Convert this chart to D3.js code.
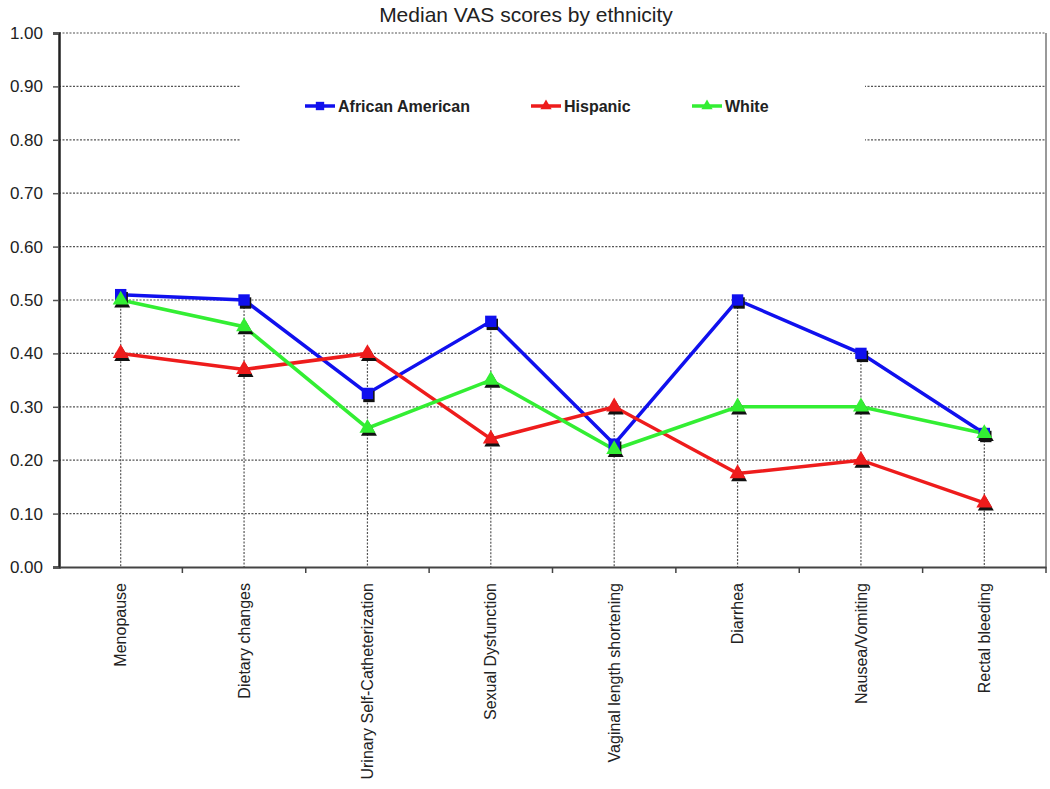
<!DOCTYPE html>
<html>
<head>
<meta charset="utf-8">
<script src="https://cdn.jsdelivr.net/npm/d3@7"></script>
<style>
  body { margin: 0; background: #fff; }
  text { font-family: Arial, "Liberation Sans", sans-serif; }
</style>
</head>
<body>
<svg id="chart" width="1050" height="789"></svg>
<script>
const categories = ["Menopause", "Dietary changes", "Urinary Self-Catheterization", "Sexual Dysfunction",
  "Vaginal length shortening", "Diarrhea", "Nausea/Vomiting", "Rectal bleeding"];
const africanAmerican = [0.51, 0.50, 0.325, 0.46, 0.23, 0.50, 0.40, 0.25];
const hispanic = [0.40, 0.37, 0.40, 0.24, 0.30, 0.175, 0.20, 0.12];
const white = [0.50, 0.45, 0.26, 0.35, 0.22, 0.30, 0.30, 0.25];
const yTicks = [0, 0.1, 0.2, 0.3, 0.4, 0.5, 0.6, 0.7, 0.8, 0.9, 1.0];

const series = [
  { name: "African American", values: africanAmerican, color: "#1010ee", shape: d3.symbolSquare },
  { name: "Hispanic", values: hispanic, color: "#ee1c1c", shape: d3.symbolTriangle },
  { name: "White", values: white, color: "#33ee33", shape: d3.symbolTriangle }
];

const svg = d3.select("#chart");
const plotLeft = 59, plotRight = 1046, plotTop = 33, plotBottom = 567;

const x = d3.scaleBand().domain(categories).range([plotLeft, plotRight]);
const y = d3.scaleLinear().domain([0, 1]).range([plotBottom, plotTop]);
const cx = (c) => x(c) + x.bandwidth() / 2;

// title
svg.append("text")
  .attr("x", 526).attr("y", 22)
  .attr("text-anchor", "middle")
  .attr("font-size", 21)
  .attr("fill", "#222")
  .text("Median VAS scores by ethnicity");

// horizontal gridlines
svg.append("g")
  .selectAll("line")
  .data(yTicks.filter((d) => d > 0))
  .join("line")
  .attr("x1", plotLeft).attr("x2", plotRight)
  .attr("y1", (d) => y(d)).attr("y2", (d) => y(d))
  .attr("stroke", "#555")
  .attr("stroke-width", 1.2)
  .attr("stroke-dasharray", "2,1.5");

// drop lines from highest point to axis
svg.append("g")
  .selectAll("line")
  .data(categories)
  .join("line")
  .attr("x1", cx).attr("x2", cx)
  .attr("y1", (c, i) => y(d3.max(series, (s) => s.values[i])))
  .attr("y2", plotBottom)
  .attr("stroke", "#555")
  .attr("stroke-width", 1.2)
  .attr("stroke-dasharray", "2,1.5");

// right border
svg.append("line")
  .attr("x1", plotRight).attr("x2", plotRight)
  .attr("y1", plotTop).attr("y2", plotBottom)
  .attr("stroke", "#777").attr("stroke-width", 1.5);

// y axis
const yAxis = svg.append("g")
  .attr("transform", `translate(${plotLeft},0)`)
  .call(d3.axisLeft(y).tickValues(yTicks).tickFormat(d3.format(".2f")).tickSize(6).tickPadding(10));
yAxis.select(".domain").attr("stroke", "#222").attr("stroke-width", 2.5);
yAxis.selectAll(".tick line").attr("stroke", "#555").attr("stroke-width", 1.5);
yAxis.selectAll("text").attr("font-size", 17).attr("fill", "#222").attr("font-family", "Arial, 'Liberation Sans', sans-serif");

// x axis
const xAxis = svg.append("g")
  .attr("transform", `translate(0,${plotBottom})`)
  .call(d3.axisBottom(x).tickSize(0).tickPadding(0));
xAxis.select(".domain").attr("stroke", "#444").attr("stroke-width", 2);
xAxis.selectAll(".tick text")
  .attr("font-size", 16)
  .attr("fill", "#222")
  .attr("font-family", "Arial, 'Liberation Sans', sans-serif")
  .attr("text-anchor", "end")
  .attr("transform", "translate(0,16) rotate(-90)")
  .attr("dy", "0.35em")
  .attr("x", 0).attr("y", 0);

// minor ticks at category boundaries
svg.append("g")
  .selectAll("line")
  .data(categories.slice(1).concat(["end"]))
  .join("line")
  .attr("x1", (c) => c === "end" ? plotRight : x(c))
  .attr("x2", (c) => c === "end" ? plotRight : x(c))
  .attr("y1", plotBottom).attr("y2", plotBottom + 6)
  .attr("stroke", "#444").attr("stroke-width", 1.5);

// lines
const line = d3.line().x((d, i) => cx(categories[i])).y((d) => y(d));
svg.append("g")
  .selectAll("path")
  .data(series)
  .join("path")
  .attr("d", (s) => line(s.values))
  .attr("fill", "none")
  .attr("stroke", (s) => s.color)
  .attr("stroke-width", 3.5);

// markers with black shadow
const markerG = svg.append("g");
series.forEach((s) => {
  const sym = d3.symbol().type(s.shape).size(s.shape === d3.symbolSquare ? 130 : 110);
  markerG.selectAll(null)
    .data(s.values)
    .join("path")
    .attr("d", sym)
    .attr("transform", (d, i) => `translate(${cx(categories[i]) + 1.5},${y(d) + 3})`)
    .attr("fill", "#111");
  markerG.selectAll(null)
    .data(s.values)
    .join("path")
    .attr("d", sym)
    .attr("transform", (d, i) => `translate(${cx(categories[i])},${y(d)})`)
    .attr("fill", s.color);
});

// legend
const legend = svg.append("g");
legend.append("rect")
  .attr("x", 240).attr("y", 72).attr("width", 625).attr("height", 78)
  .attr("fill", "#fff");
const legendX = [305, 531, 692];
series.forEach((s, i) => {
  const g = legend.append("g").attr("transform", `translate(${legendX[i]},106)`);
  g.append("line").attr("x1", 0).attr("x2", 30).attr("y1", 0).attr("y2", 0)
    .attr("stroke", s.color).attr("stroke-width", 3.5);
  g.append("path")
    .attr("d", d3.symbol().type(s.shape).size(s.shape === d3.symbolSquare ? 70 : 55))
    .attr("transform", "translate(15,0)")
    .attr("fill", s.color);
  g.append("text")
    .attr("x", 33).attr("y", 0).attr("dy", "0.35em")
    .attr("font-size", 16).attr("font-weight", "bold").attr("fill", "#222")
    .text(s.name);
});
</script>
</body>
</html>
